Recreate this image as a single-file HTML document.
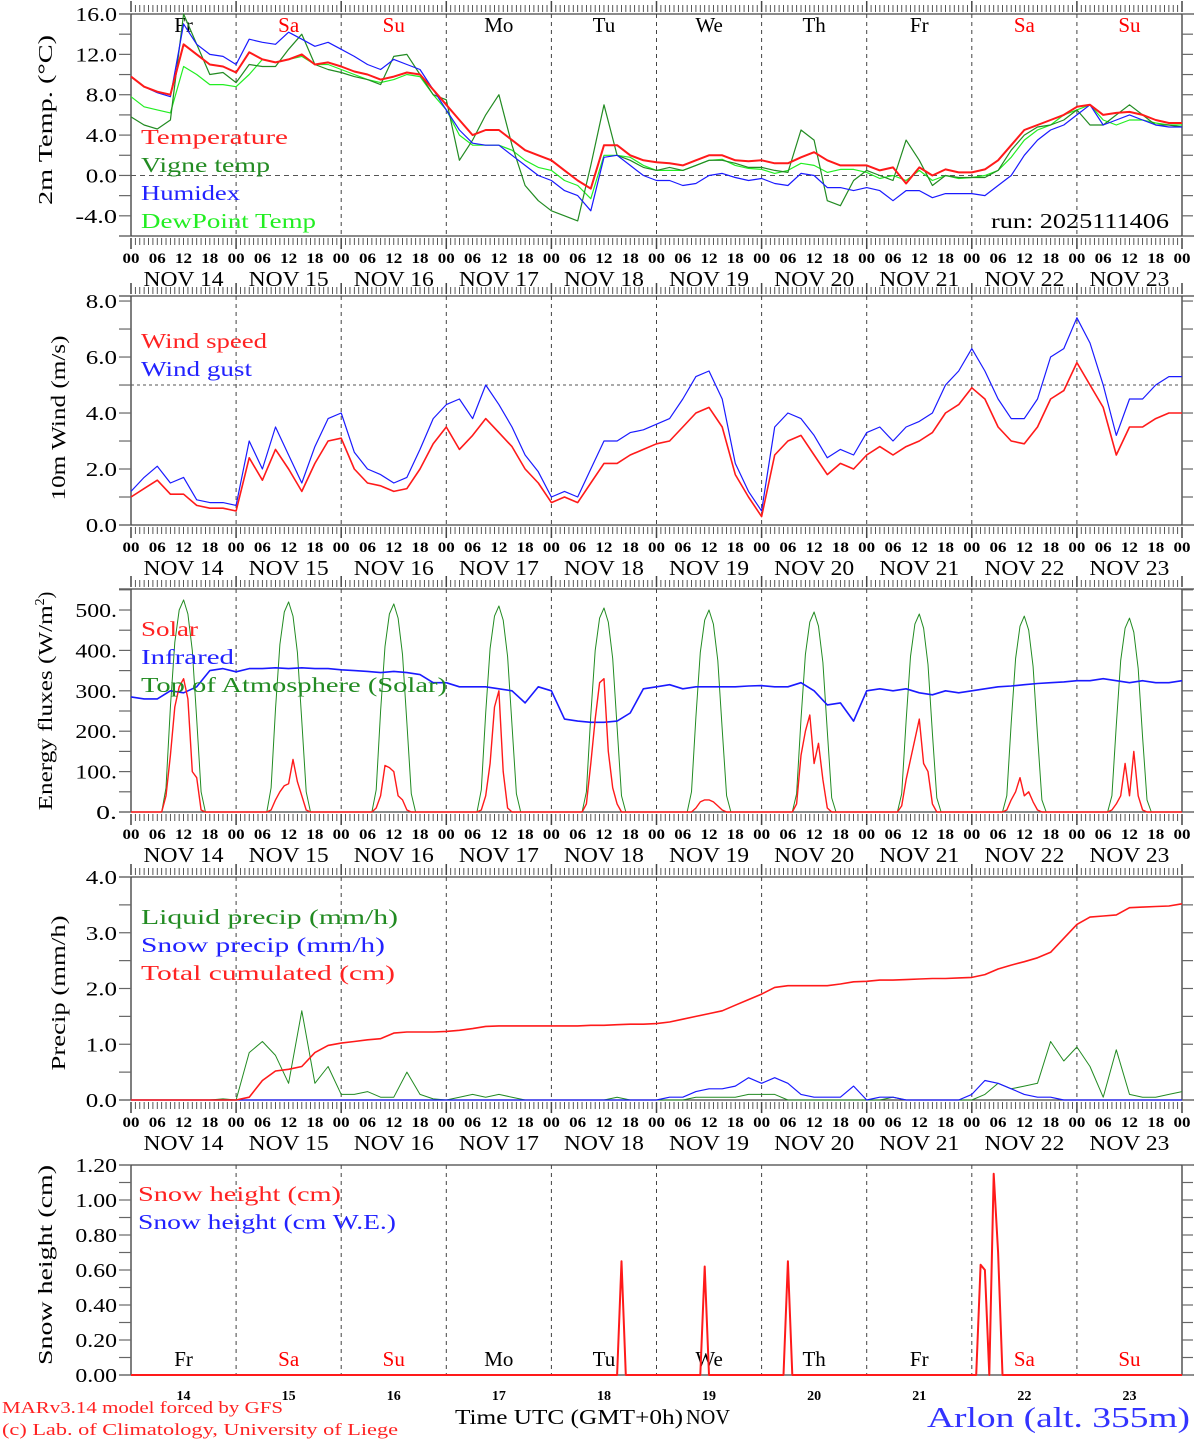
<!DOCTYPE html>
<html><head><meta charset="utf-8"><title>MAR meteogram Arlon</title>
<style>
html,body{margin:0;padding:0;background:#fff;}
svg{display:block;font-family:"Liberation Serif",serif;}
</style></head>
<body>
<svg id="chart" xmlns="http://www.w3.org/2000/svg" width="1194" height="1440" viewBox="0 0 1194 1440"></svg>
<script>
// ---------- DATA (3-hourly, 0..240h from NOV 14 00 UTC) ----------
const days = ["14","15","16","17","18","19","20","21","22","23"];
const dayNames = ["Fr","Sa","Su","Mo","Tu","We","Th","Fr","Sa","Su"];
const hourLabels = ["00","06","12","18"];
const tempTicks = [16,12,8,4,0,-4];
const windTicks = [8,6,4,2,0];
const fluxTicks = [500,400,300,200,100,0];
const precipTicks = [4,3,2,1,0];
const snowTicks = [1.2,1.0,0.8,0.6,0.4,0.2,0];

const temperature = [9.8,8.8,8.3,8.0,13.0,12.0,11.0,10.8, 10.2,12.2,11.5,11.2,11.5,12.0,11.0,11.2, 10.8,10.3,10.0,9.5,9.8,10.2,10.0,8.5, 7.0,5.5,4.0,4.5,4.5,3.5,2.5,2.0, 1.5,0.5,-0.5,-1.3,3.0,3.0,2.0,1.5, 1.3,1.2,1.0,1.5,2.0,2.0,1.5,1.4, 1.5,1.2,1.2,1.8,2.3,1.5,1.0,1.0, 1.0,0.5,0.8,-0.8,0.8,0.0,0.6,0.3, 0.3,0.6,1.5,3.0,4.5,5.0,5.5,6.0, 6.8,7.0,6.0,6.2,6.3,6.0,5.5,5.2,5.2];
const vigneTemp = [5.8,5.0,4.6,5.5,16.0,13.0,10.0,10.2, 9.2,11.0,10.8,10.8,12.5,14.0,11.0,10.5, 10.2,9.8,9.5,9.0,11.8,12.0,10.0,8.0, 7.5,1.5,3.5,6.0,8.0,3.0,-1.0,-2.5, -3.5,-4.0,-4.5,1.0,7.0,2.0,1.5,0.8, 0.5,0.8,0.5,1.0,1.5,1.5,1.2,0.8, 0.8,0.5,0.3,4.5,3.5,-2.5,-3.0,-0.5, 0.5,0.0,-0.5,3.5,1.5,-1.0,0.0,-0.2, -0.2,-0.2,0.5,2.5,4.0,4.8,5.0,5.5, 6.5,5.0,5.0,6.0,7.0,6.0,5.0,5.0,4.8];
const humidex = [9.8,8.8,8.2,7.8,15.0,13.0,12.0,11.8, 11.0,13.5,13.2,13.0,14.2,13.5,12.8,13.2, 12.5,11.8,11.0,10.5,11.5,11.0,10.5,8.5, 6.5,4.5,3.2,3.0,3.0,2.0,1.0,0.0, -0.5,-1.5,-2.0,-3.5,1.8,2.0,1.0,0.0, -0.5,-0.5,-1.0,-0.8,0.0,0.2,-0.2,-0.5, -0.3,-0.8,-1.0,0.2,0.0,-1.2,-1.2,-1.5, -1.2,-1.5,-2.5,-1.5,-1.5,-2.2,-1.8,-1.8, -1.8,-2.0,-1.0,0.0,2.0,3.5,4.5,5.0, 6.0,7.0,5.0,5.5,6.0,5.5,5.0,4.8,4.8];
const dewPoint = [7.8,6.8,6.5,6.2,10.8,10.0,9.0,9.0, 8.8,10.0,11.5,11.2,11.5,11.8,11.0,11.0, 10.5,10.0,9.5,9.2,9.5,10.0,9.8,8.0, 6.5,4.0,3.0,3.0,3.0,2.5,1.5,0.8, 0.5,-0.5,-1.0,-2.3,2.0,2.0,1.8,1.0, 0.5,0.5,0.5,1.0,1.5,1.6,1.0,0.7, 0.6,0.2,0.5,1.2,1.0,0.3,0.6,0.6, 0.3,-0.3,0.0,-0.5,0.5,-0.5,0.0,-0.3, -0.2,0.0,0.5,1.8,3.5,4.5,5.0,6.0, 6.5,7.0,5.5,5.0,5.5,5.5,5.2,5.0,5.0];

const windSpeed = [1.0,1.3,1.6,1.1,1.1,0.7,0.6,0.6, 0.5,2.4,1.6,2.7,2.0,1.2,2.2,3.0, 3.1,2.0,1.5,1.4,1.2,1.3,2.0,2.9, 3.5,2.7,3.2,3.8,3.3,2.8,2.0,1.5, 0.8,1.0,0.8,1.5,2.2,2.2,2.5,2.7, 2.9,3.0,3.5,4.0,4.2,3.5,1.8,1.0, 0.3,2.5,3.0,3.2,2.5,1.8,2.2,2.0, 2.5,2.8,2.5,2.8,3.0,3.3,4.0,4.3, 4.9,4.5,3.5,3.0,2.9,3.5,4.5,4.8, 5.8,5.0,4.2,2.5,3.5,3.5,3.8,4.0,4.0];
const windGust = [1.2,1.7,2.1,1.5,1.7,0.9,0.8,0.8, 0.7,3.0,2.0,3.5,2.5,1.5,2.8,3.8, 4.0,2.6,2.0,1.8,1.5,1.7,2.7,3.8, 4.3,4.5,3.8,5.0,4.3,3.5,2.5,1.9, 1.0,1.2,1.0,2.0,3.0,3.0,3.3,3.4, 3.6,3.8,4.5,5.3,5.5,4.5,2.2,1.2, 0.5,3.5,4.0,3.8,3.2,2.4,2.7,2.5, 3.3,3.5,3.0,3.5,3.7,4.0,5.0,5.5, 6.3,5.5,4.5,3.8,3.8,4.5,6.0,6.3, 7.4,6.5,5.0,3.2,4.5,4.5,5.0,5.3,5.3];

const infrared = [285,280,280,300,295,310,350,355, 347,355,355,357,355,357,355,355, 352,350,348,345,348,345,340,320, 320,310,310,310,305,300,270,310, 300,230,225,222,222,225,245,305, 310,315,305,310,310,310,310,312, 313,310,310,320,300,265,270,225, 300,305,300,305,295,290,300,295, 300,305,310,312,315,318,320,322, 325,325,330,325,320,325,320,320,325];
// daytime hourly values, hours 07..17 for each day
const toaDay = [
 [0,60,260,420,500,525,490,400,230,50,0],[0,60,255,415,495,520,485,395,225,50,0],
 [0,55,250,410,490,515,480,390,220,45,0],[0,55,245,405,485,510,475,385,215,45,0],
 [0,50,240,400,480,505,470,380,210,40,0],[0,50,235,395,475,500,465,375,205,40,0],
 [0,45,230,390,470,495,460,370,200,35,0],[0,45,225,385,465,490,455,365,195,35,0],
 [0,40,220,380,460,485,450,360,190,30,0],[0,40,215,375,455,480,445,355,185,30,0]];
const solarDay = [
 [0,40,140,260,310,330,280,100,85,5,0],[0,5,30,50,65,70,130,75,40,5,0],
 [0,10,40,115,110,100,40,30,5,0,0],[0,5,40,120,260,300,100,10,0,0,0],
 [0,20,120,230,320,330,150,60,20,0,0],[0,0,10,25,30,30,25,15,5,0,0],
 [0,20,140,200,240,120,170,80,10,0,0],[0,15,80,130,180,230,120,100,20,0,0],
 [0,5,30,50,85,40,50,25,5,0,0],[0,5,20,40,120,40,150,40,5,0,0]];

const totalCum = [0,0,0,0,0,0,0,0, 0,0.05,0.35,0.52,0.55,0.6,0.85,0.98, 1.02,1.05,1.08,1.10,1.20,1.22,1.22,1.22, 1.23,1.25,1.28,1.32,1.33,1.33,1.33,1.33, 1.33,1.33,1.33,1.34,1.34,1.35,1.36,1.36, 1.37,1.40,1.45,1.50,1.55,1.60,1.70,1.80, 1.90,2.02,2.05,2.05,2.05,2.05,2.08,2.12, 2.13,2.15,2.15,2.16,2.17,2.18,2.18,2.19, 2.20,2.25,2.35,2.42,2.48,2.55,2.65,2.90, 3.15,3.28,3.30,3.32,3.45,3.46,3.47,3.48,3.52];
const liquidPrecip = [0,0,0,0,0,0,0,0.02, 0,0.85,1.05,0.8,0.3,1.6,0.3,0.6, 0.1,0.1,0.15,0.05,0.05,0.5,0.1,0.02, 0,0.05,0.1,0.05,0.1,0.05,0,0, 0,0,0,0,0,0.05,0,0, 0,0,0,0.05,0.05,0.05,0.05,0.1, 0.1,0.1,0,0,0,0,0,0, 0,0,0.05,0,0,0,0,0, 0,0.1,0.3,0.2,0.25,0.3,1.05,0.7, 0.95,0.6,0.05,0.9,0.1,0.05,0.05,0.1,0.15];
const snowPrecip = [0,0,0,0,0,0,0,0, 0,0,0,0,0,0,0,0, 0,0,0,0,0,0,0,0, 0,0,0,0,0,0,0,0, 0,0,0,0,0,0,0,0, 0,0.05,0.05,0.15,0.2,0.2,0.25,0.4, 0.3,0.4,0.3,0.1,0.05,0.05,0.05,0.25, 0,0.05,0.05,0,0,0,0,0, 0.1,0.35,0.3,0.2,0.1,0.05,0.05,0, 0,0,0,0,0,0,0,0,0];

const snowHours = [0,111,112,113,130,131,132,149,150,151,193,194,195,196,197,198,199,240];
const snowHeight = [0,0,0.65,0,0,0.62,0,0,0.65,0,0,0.63,0.6,0,1.15,0.7,0,0];

// ---------- DRAWING ----------
const NS="http://www.w3.org/2000/svg";
const svg=document.getElementById('chart');
const X0=131, X1=1182;
function x(h){return X0+h*(X1-X0)/240;}
function mk(tag,attrs,parent){const e=document.createElementNS(NS,tag);for(const k in attrs)e.setAttribute(k,attrs[k]);(parent||svg).appendChild(e);return e;}
function yf(p){return v=>p.bottom-(v-p.min)*(p.bottom-p.top)/(p.max-p.min);}

const panels=[
 {name:'temp',top:14,bottom:236,min:-6,max:16,ticks:tempTicks,minor:2,fmt:v=>v.toFixed(1)},
 {name:'wind',top:296,bottom:525,min:0,max:8.18,ticks:windTicks,minor:1,fmt:v=>v.toFixed(1)},
 {name:'flux',top:589,bottom:812,min:0,max:552,ticks:fluxTicks,minor:50,fmt:v=>v+'.'},
 {name:'precip',top:877,bottom:1100,min:0,max:4,ticks:precipTicks,minor:0.5,fmt:v=>v.toFixed(1)},
 {name:'snow',top:1165,bottom:1375,min:0,max:1.2,ticks:snowTicks,minor:0.1,fmt:v=>v.toFixed(2)}
];

function text(str,xx,yy,opts,name,len){
  const o=Object.assign({x:xx,y:yy,'font-size':14,fill:'#000'},opts||{});
  if(len){o.textLength=len;o.lengthAdjust='spacingAndGlyphs';}
  const t=mk('text',o);
  t.textContent=str;
  
  
  return t;
}
function line(pts,color,w,name){
  const p=mk('polyline',{points:pts.map(q=>q[0].toFixed(1)+','+q[1].toFixed(1)).join(' '),fill:'none',stroke:color,'stroke-width':w,'stroke-linejoin':'round'});
  
  
  return p;
}
function series3h(arr,p){const Y=yf(p);return arr.map((v,i)=>[x(i*3),Y(v)]);}
function seriesDay(dayArr,p){
  const Y=yf(p);const pts=[[x(0),Y(0)]];
  dayArr.forEach((d,di)=>{d.forEach((v,k)=>pts.push([x(di*24+7+k),Y(v)]));});
  pts.push([x(240),Y(0)]);return pts;
}

panels.forEach((p,pi)=>{
  const g=mk('g',{});
  
  
  const Y=yf(p);
  mk('line',{x1:X0,y1:p.top,x2:X0,y2:p.bottom,stroke:'#555','stroke-width':1.5},g);
  mk('line',{x1:X1,y1:p.top,x2:X1,y2:p.bottom,stroke:'#555','stroke-width':1.5},g);
  mk('line',{x1:X0-12,y1:p.bottom,x2:X1+12,y2:p.bottom,stroke:'#444','stroke-width':1.3},g);
  mk('line',{x1:X0-12,y1:p.top,x2:X1+12,y2:p.top,stroke:'#444','stroke-width':1.3},g);
  for(let v=p.min<0?-6:0; v<=p.max+1e-9; v+=p.minor){
    const yy=Y(v);
    mk('line',{x1:X0-12,y1:yy,x2:X0,y2:yy,stroke:'#666','stroke-width':1.2},g);
    mk('line',{x1:X1,y1:yy,x2:X1+11,y2:yy,stroke:'#666','stroke-width':1.2},g);
  }
  p.ticks.forEach(v=>{
    const s=p.fmt(v);
    text(s,X0-14,Y(v)+7,{'font-size':20,'text-anchor':'end'},'y-tick-label',s.length*10.4);
  });
  if(pi<4){
    for(let h=0;h<=240;h++){
      const xx=x(h);const big=h%24==0;
      mk('line',{x1:xx,y1:p.top-(big?13:9),x2:xx,y2:p.top-2,stroke:'#444','stroke-width':big?1.5:0.9},g);
      mk('line',{x1:xx,y1:p.bottom+2,x2:xx,y2:p.bottom+(big?13:9),stroke:'#444','stroke-width':big?1.5:0.9},g);
    }
    for(let h=0;h<=240;h+=6){
      text(hourLabels[(h/6)%4],x(h)-8.5,p.bottom+27,{'font-size':15,'font-weight':'bold'},'x-hour-label',17);
    }
    days.forEach((d,i)=>text('NOV 14'.replace('14',d),x(i*24+12)-40,p.bottom+50,{'font-size':21},'x-date-label',80));
  }
  for(let i=1;i<10;i++){
    mk('line',{x1:x(i*24),y1:p.top,x2:x(i*24),y2:p.bottom,stroke:'#444','stroke-width':1,'stroke-dasharray':'4,4'},g);
  }
});

function rotTitle(str,cx,cy,len,name){
  return text(str,0,0,{'font-size':20,'text-anchor':'middle',transform:'translate('+cx+','+cy+') rotate(-90)'},name,len);
}

// Panel 1
(function(){
  const p=panels[0],Y=yf(p);
  mk('line',{x1:X0,y1:Y(0),x2:X1,y2:Y(0),stroke:'#555','stroke-width':1,'stroke-dasharray':'5,4'});
  dayNames.forEach((d,i)=>text(d,x(i*24+12),32,{'font-size':21,'text-anchor':'middle',fill:(d=='Sa'||d=='Su')?'#f00':'#000'},'day-name'));
  line(series3h(dewPoint,p),'#22ee22',1.2,'dewpoint-line');
  line(series3h(vigneTemp,p),'#228b22',1.2,'vigne-temp-line');
  line(series3h(humidex,p),'#1a1aff',1.2,'humidex-line');
  line(series3h(temperature,p),'#ff1a1a',2,'temperature-line');
  text('Temperature',141,144,{'font-size':21,fill:'#f22'},'legend-temperature',147);
  text('Vigne temp',141,172,{'font-size':21,fill:'#228b22'},'legend-vigne-temp',129);
  text('Humidex',141,200,{'font-size':21,fill:'#22f'},'legend-humidex',99);
  text('DewPoint Temp',141,228,{'font-size':21,fill:'#2e2'},'legend-dewpoint',175);
  text('run: 2025111406',991,228,{'font-size':21},'run-label',178);
  rotTitle('2m Temp. (°C)',52,120,170,'y-axis-title');
})();
// Panel 2
(function(){
  const p=panels[1],Y=yf(p);
  mk('line',{x1:X0,y1:Y(5),x2:X1,y2:Y(5),stroke:'#555','stroke-width':1,'stroke-dasharray':'3,3'});
  line(series3h(windGust,p),'#1a1aff',1.2,'wind-gust-line');
  line(series3h(windSpeed,p),'#ff1a1a',1.6,'wind-speed-line');
  text('Wind speed',141,348,{'font-size':21,fill:'#f22'},'legend-wind-speed',126);
  text('Wind gust',141,376,{'font-size':21,fill:'#22f'},'legend-wind-gust',111);
  rotTitle('10m Wind (m/s)',65,418,165,'y-axis-title');
})();
// Panel 3
(function(){
  const p=panels[2];
  line(seriesDay(toaDay,p),'#228b22',1,'toa-solar-line');
  line(series3h(infrared,p),'#1a1aff',1.6,'infrared-line');
  line(seriesDay(solarDay,p),'#ff1a1a',1.4,'solar-line');
  text('Solar',141,636,{'font-size':21,fill:'#f22'},'legend-solar',57);
  text('Infrared',141,664,{'font-size':21,fill:'#22f'},'legend-infrared',93);
  text('Top of Atmosphere (Solar)',141,692,{'font-size':21,fill:'#228b22'},'legend-toa',306);
  const t=text('',0,0,{'font-size':20,'text-anchor':'middle',transform:'translate(52,701) rotate(-90)'},'y-axis-title');
  t.innerHTML='<tspan textLength="205" lengthAdjust="spacingAndGlyphs">Energy fluxes (W/m</tspan><tspan dy="-8" font-size="14">2</tspan><tspan dy="8">)</tspan>';
})();
// Panel 4
(function(){
  const p=panels[3];
  line(series3h(liquidPrecip,p),'#228b22',1,'liquid-precip-line');
  line(series3h(snowPrecip,p),'#1a1aff',1.2,'snow-precip-line');
  line(series3h(totalCum,p),'#ff1a1a',1.6,'total-cumulated-line');
  text('Liquid precip (mm/h)',141,924,{'font-size':21,fill:'#228b22'},'legend-liquid',257);
  text('Snow precip (mm/h)',141,952,{'font-size':21,fill:'#22f'},'legend-snow-precip',244);
  text('Total cumulated (cm)',141,980,{'font-size':21,fill:'#f22'},'legend-total',254);
  rotTitle('Precip (mm/h)',65,993,155,'y-axis-title');
})();
// Panel 5
(function(){
  const p=panels[4],Y=yf(p);
  dayNames.forEach((d,i)=>text(d,x(i*24+12),1366,{'font-size':21,'text-anchor':'middle',fill:(d=='Sa'||d=='Su')?'#f00':'#000'},'day-name-bottom'));
  line(snowHours.map((h,i)=>[x(h),Y(snowHeight[i])]),'#ff1a1a',2,'snow-height-line');
  days.forEach((d,i)=>text(d,x(i*24+12)-7,1400,{'font-size':14,'font-weight':'bold'},'x-day-label',14));
  text('Snow height (cm)',138,1201,{'font-size':21,fill:'#f22'},'legend-snow-height',203);
  text('Snow height (cm W.E.)',138,1229,{'font-size':21,fill:'#22f'},'legend-snow-we',258);
  rotTitle('Snow height (cm)',52,1265,200,'y-axis-title');
})();
// footer
text('Time UTC (GMT+0h)',455,1424,{'font-size':21},'x-axis-title',228);
text('NOV',686,1424,{'font-size':21},'x-axis-month',44);
text('MARv3.14 model forced by GFS',2,1413,{'font-size':17,fill:'#f22'},'model-credit',281);
text('(c) Lab. of Climatology, University of Liege',2,1435,{'font-size':17,fill:'#f22'},'lab-credit',396);
text('Arlon (alt. 355m)',927,1427,{'font-size':28,fill:'#33f'},'station-title',263);
</script>
</body></html>
